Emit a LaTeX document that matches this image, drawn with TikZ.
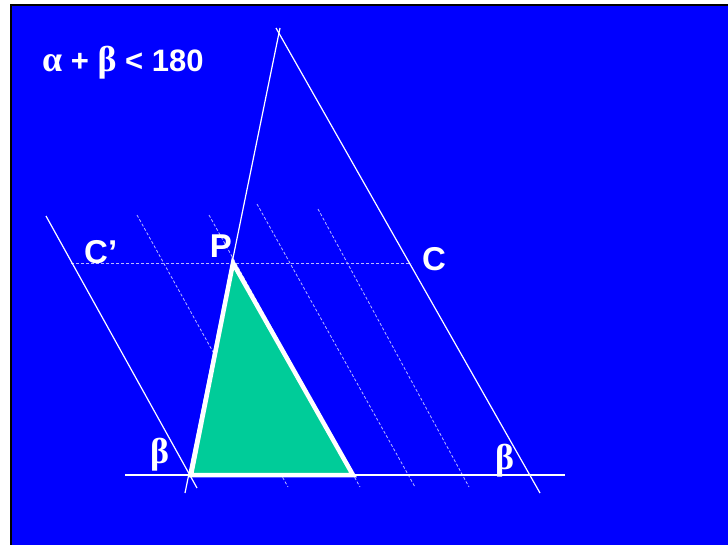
\documentclass[tikz,border=0pt]{standalone}
\usepackage{fontspec}
\setmainfont{Liberation Sans}
\newfontfamily\greekfont{Liberation Serif}
\usepackage{tikz}
\usetikzlibrary{calc}
\definecolor{myblue}{RGB}{0,0,255}
\definecolor{mygreen}{RGB}{0,204,153}
\definecolor{mydash}{RGB}{185,185,255}
\tikzset{
  guide/.style={draw=white, line width=1.2pt},
  dashguide/.style={draw=mydash, line width=0.8pt, dash pattern=on 3pt off 2pt},
  tri/.style={draw=white, fill=mygreen, line width=4.5pt, line join=miter},
  lbl/.style={text=white, font=\bfseries\fontsize{33}{35}\selectfont, inner sep=0pt},
  glbl/.style={text=white, font=\greekfont\bfseries\fontsize{36}{38}\selectfont, inner sep=0pt}
}
\begin{document}
\begin{tikzpicture}[x=1pt, y=-1pt]
  \useasboundingbox (0,0) rectangle (728,544);
  % Slide background
  \fill[black] (10,4) rectangle (729,545);
  \fill[myblue] (12,6) rectangle (729,545);

  % Points
  \coordinate (P) at (233,263);
  \coordinate (A) at (191,475);
  \coordinate (B) at (353,475);
  \coordinate (Cl) at (71,263);
  \coordinate (Cr) at (411,263);

  % Dashed parallels and the line through P
  \draw[dashguide] (Cl) -- (Cr);
  \draw[dashguide] (137,215) -- (288,487);
  \draw[dashguide] (209,215) -- (360,487);
  \draw[dashguide] (257,204) -- (415,487);
  \draw[dashguide] (318,209) -- (469,487);

  % Triangle
  \draw[tri] (P) -- (A) -- (B) -- cycle;

  % Solid construction lines
  \draw[guide] (125,475) -- (565,475);
  \draw[guide] (185,493) -- (280,28);
  \draw[guide] (276,28) -- (540,493);
  \draw[guide] (46,216) -- (197,488);

  % Labels
  \node[lbl, anchor=base west, font=\bfseries\fontsize{31}{33}\selectfont] (rule) at (42,71)
    {{\greekfont\fontsize{36}{38}\selectfont α} + {\greekfont\fontsize{36}{38}\selectfont β} < 180};
  \node[lbl, anchor=base] (lP) at (221,257) {P};
  \node[lbl, anchor=base west] (lCl) at (84,263) {C’};
  \node[lbl, anchor=base west] (lCr) at (422,270) {C};
  \node[glbl, anchor=base west] (lbA) at (150,463) {β};
  \node[glbl, anchor=base west] (lbB) at (495,469) {β};
\end{tikzpicture}
\end{document}
